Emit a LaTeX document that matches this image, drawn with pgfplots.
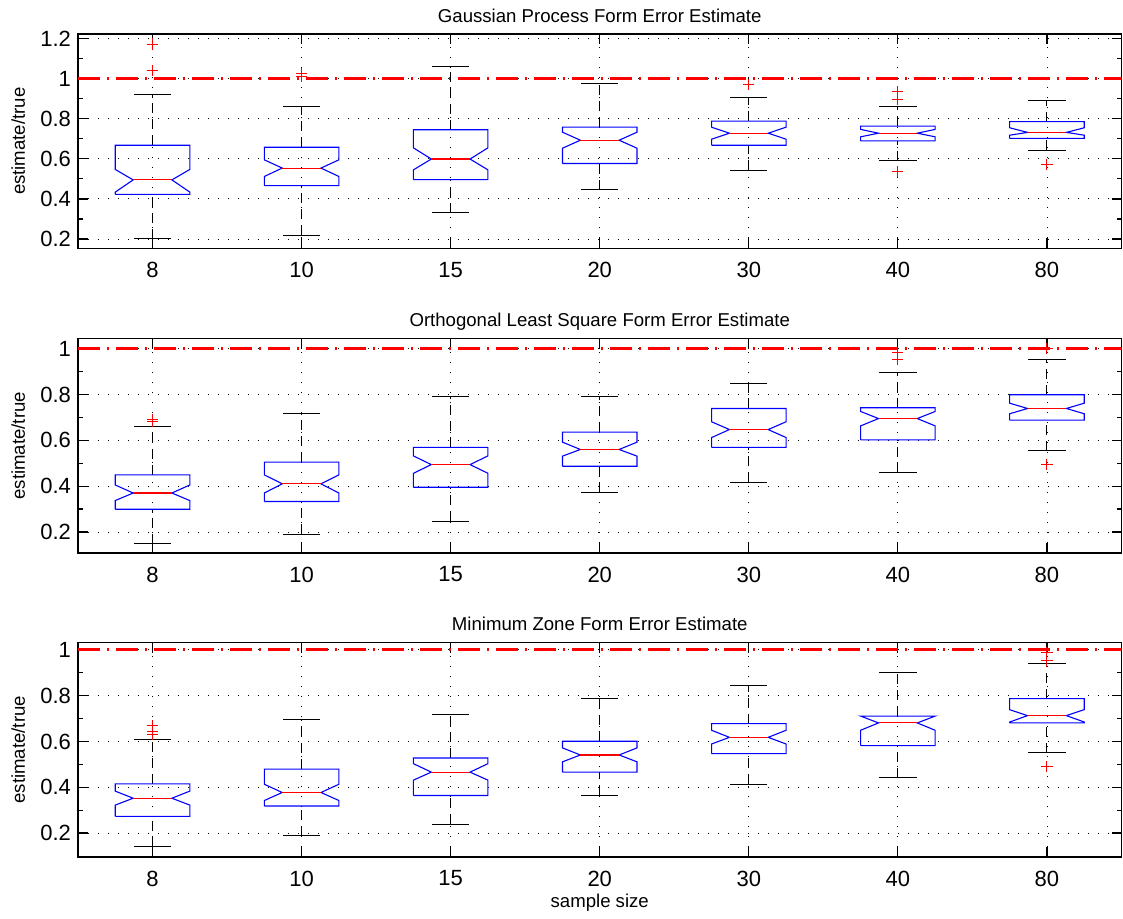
\documentclass[border=0pt]{standalone}
\usepackage{pgfplots}
\pgfplotsset{compat=1.18}
\usepackage{fontspec}
\setmainfont{Liberation Sans}

\newcommand\nbox[8]{%
  \pgfmathsetmacro\bxL{#1-0.25}\pgfmathsetmacro\bxR{#1+0.25}%
  \pgfmathsetmacro\nxL{#1-0.13}\pgfmathsetmacro\nxR{#1+0.13}%
  \pgfmathsetmacro\cpL{#1-0.125}\pgfmathsetmacro\cpR{#1+0.125}%
  \addplot[black, line width=0.5pt, dash pattern=on 5pt off 3pt] coordinates {(#1,#7) (#1,#8)};
  \addplot[black, line width=0.5pt, dash pattern=on 5pt off 3pt] coordinates {(#1,#2) (#1,#3)};
  \addplot[black, line width=0.5pt] coordinates {(\cpL,#8) (\cpR,#8)};
  \addplot[black, line width=0.5pt] coordinates {(\cpL,#2) (\cpR,#2)};
  \addplot[blue, line width=0.55pt] coordinates {(\bxL,#3) (\bxL,#4) (\nxL,#5) (\bxL,#6) (\bxL,#7) (\bxR,#7) (\bxR,#6) (\nxR,#5) (\bxR,#4) (\bxR,#3) (\bxL,#3)};
  \addplot[red, line width=0.55pt] coordinates {(\nxL,#5) (\nxR,#5)};
}

\pgfplotsset{
  mypanel/.style={
    scale only axis, width=521.75pt, height=107.2pt,
    xmin=0.5, xmax=7.5,
    xtick={1,2,3,4,5,6,7},
    xticklabels={8,10,15,20,30,40,80},
    tick align=inside,
    major tick length=5pt, minor tick length=2.5pt,
    tick style={black, line width=0.6pt},
    axis line style={black, line width=0.8pt},
    grid=major,
    major grid style={black, line width=0.45pt, dash pattern=on 0.5pt off 4.5pt},
    ticklabel style={font=\fontsize{11}{13}\selectfont},
    /pgf/number format/assume math mode=true,
    yticklabel style={/pgf/number format/fixed, /pgf/number format/precision=1},
    xticklabel style={yshift=-3.3pt},
    title style={font=\fontsize{9.3}{11}\selectfont, at={(0.5,1)}, anchor=base},
    ylabel={estimate/true},
    ylabel style={font=\fontsize{9.3}{11}\selectfont, at={(axis description cs:0,0.5)}, anchor=center, rotate=0, yshift=29.9pt},
    clip=true,
  },
  outl/.style={only marks, mark=+, red, mark size=2.8pt, mark options={line width=0.5pt}},
  refl/.style={red, line width=1.5pt, dash pattern=on 11pt off 3.5pt on 1pt off 3.5pt},
}

\begin{document}
\begin{tikzpicture}
\useasboundingbox (-39pt,17pt) rectangle (522.5pt,-442pt);

% Panel 1
\begin{axis}[mypanel, at={(0pt,0pt)}, anchor=north west,
  ymin=0.153, ymax=1.223,
  ytick={0.2,0.4,0.6,0.8,1,1.2},
  minor ytick={0.3,0.5,0.7,0.9,1.1},
  title={Gaussian Process Form Error Estimate}]
\addplot[refl] coordinates {(0.5,1) (7.5,1)};
\nbox{1}{0.200}{0.423}{0.434}{0.495}{0.547}{0.668}{0.923}
\nbox{2}{0.218}{0.466}{0.512}{0.554}{0.595}{0.658}{0.863}
\nbox{3}{0.331}{0.496}{0.545}{0.599}{0.655}{0.745}{1.060}
\nbox{4}{0.447}{0.577}{0.653}{0.693}{0.733}{0.758}{0.976}
\nbox{5}{0.542}{0.668}{0.698}{0.728}{0.758}{0.788}{0.906}
\nbox{6}{0.590}{0.690}{0.710}{0.728}{0.747}{0.763}{0.863}
\nbox{7}{0.642}{0.702}{0.718}{0.732}{0.755}{0.786}{0.891}
\addplot[outl] coordinates {(1,1.173) (1,1.042) (2,1.026) (2,1.010) (5,0.972) (6,0.934) (6,0.896) (6,0.536) (7,0.572)};
\end{axis}

% Panel 2
\begin{axis}[mypanel, at={(0pt,-152.3pt)}, anchor=north west,
  ymin=0.108, ymax=1.044,
  ytick={0.2,0.4,0.6,0.8,1},
  minor ytick={0.3,0.5,0.7,0.9},
  title={Orthogonal Least Square Form Error Estimate}]
\addplot[refl] coordinates {(0.5,1) (7.5,1)};
\nbox{1}{0.149}{0.299}{0.337}{0.370}{0.405}{0.449}{0.662}
\nbox{2}{0.190}{0.333}{0.370}{0.410}{0.449}{0.505}{0.717}
\nbox{3}{0.246}{0.395}{0.456}{0.494}{0.532}{0.569}{0.792}
\nbox{4}{0.372}{0.487}{0.531}{0.560}{0.592}{0.636}{0.792}
\nbox{5}{0.417}{0.569}{0.612}{0.647}{0.681}{0.739}{0.850}
\nbox{6}{0.459}{0.602}{0.663}{0.695}{0.726}{0.742}{0.898}
\nbox{7}{0.554}{0.688}{0.716}{0.739}{0.762}{0.799}{0.955}
\addplot[outl] coordinates {(1,0.684) (1,0.690) (6,0.952) (6,0.985) (7,1.0) (7,0.494)};
\end{axis}

% Panel 3
\begin{axis}[mypanel, at={(0pt,-304.3pt)}, anchor=north west,
  ymin=0.095, ymax=1.032,
  ytick={0.2,0.4,0.6,0.8,1},
  minor ytick={0.3,0.5,0.7,0.9},
  title={Minimum Zone Form Error Estimate},
  xlabel={sample size},
  xlabel style={font=\fontsize{9.3}{11}\selectfont, at={(axis description cs:0.5,0)}, anchor=center, yshift=-23pt}]
\addplot[refl] coordinates {(0.5,1) (7.5,1)};
\nbox{1}{0.139}{0.273}{0.322}{0.352}{0.383}{0.415}{0.607}
\nbox{2}{0.187}{0.318}{0.342}{0.377}{0.413}{0.479}{0.697}
\nbox{3}{0.239}{0.364}{0.431}{0.466}{0.503}{0.528}{0.717}
\nbox{4}{0.366}{0.466}{0.511}{0.541}{0.572}{0.601}{0.787}
\nbox{5}{0.413}{0.547}{0.589}{0.618}{0.649}{0.678}{0.843}
\nbox{6}{0.441}{0.582}{0.649}{0.681}{0.711}{0.711}{0.901}
\nbox{7}{0.550}{0.681}{0.685}{0.713}{0.739}{0.787}{0.942}
\addplot[outl] coordinates {(1,0.670) (1,0.643) (1,0.631) (7,0.987) (7,0.952) (7,0.489)};
\end{axis}
\end{tikzpicture}
\end{document}
